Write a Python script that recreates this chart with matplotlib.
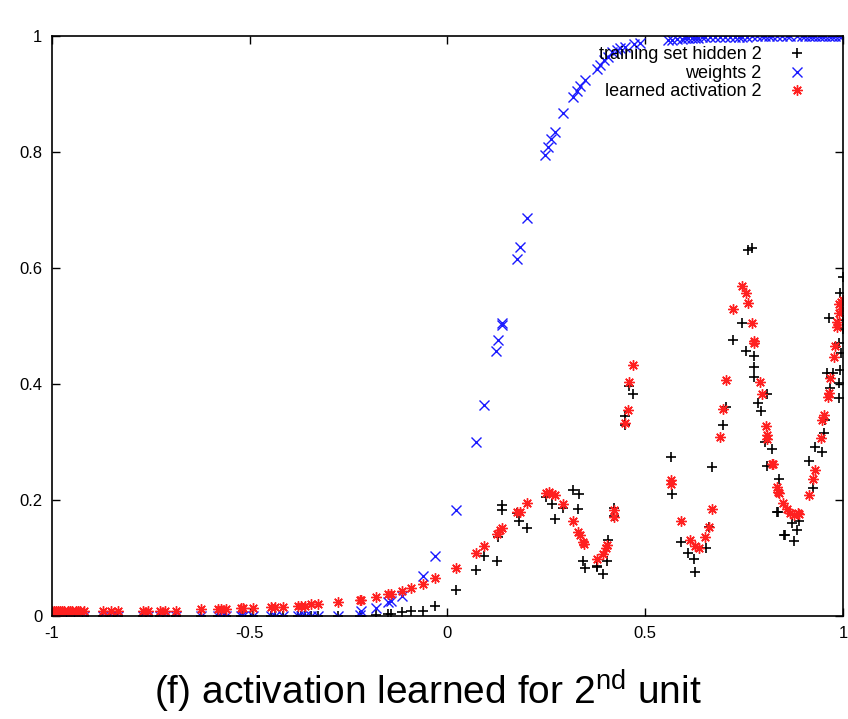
import numpy as np
import matplotlib.pyplot as plt

plt.rcParams['font.family'] = ['Liberation Sans', 'DejaVu Sans']
plt.rcParams['mathtext.fontset'] = 'custom'
plt.rcParams['mathtext.rm'] = 'Liberation Sans'

# inputs shared by the flat part on the left
x_left = [-1.0, -0.995, -0.99, -0.985, -0.98, -0.975, -0.97, -0.96, -0.955, -0.95,
          -0.94, -0.935, -0.93, -0.92, -0.871, -0.85, -0.832, -0.77, -0.758, -0.728,
          -0.715, -0.686, -0.623, -0.581, -0.572, -0.559, -0.521, -0.517, -0.492,
          -0.446, -0.437, -0.416, -0.378, -0.37, -0.361, -0.344, -0.328, -0.277]

# training set hidden 2 (black +)
train_x = x_left + [-0.222, -0.218, -0.18, -0.15, -0.142, -0.116, -0.091, -0.062, -0.032,
                    0.021, 0.071, 0.092, 0.124, 0.128, 0.137, 0.137, 0.176, 0.181, 0.2,
                    0.249, 0.265, 0.272, 0.293, 0.318, 0.333, 0.331, 0.342, 0.348, 0.377,
                    0.379, 0.394, 0.403, 0.405, 0.422, 0.422, 0.449, 0.449, 0.46, 0.47,
                    0.565, 0.567, 0.591, 0.609, 0.624, 0.626, 0.654, 0.66, 0.668, 0.696,
                    0.703, 0.723, 0.744, 0.759, 0.77, 0.754, 0.776, 0.776, 0.775, 0.786,
                    0.793, 0.809, 0.803, 0.82, 0.808, 0.837, 0.835, 0.85, 0.854, 0.832,
                    0.871, 0.877, 0.884, 0.889, 0.913, 0.924, 0.928, 0.946, 0.953, 0.955,
                    0.968, 0.96, 0.975, 0.989, 0.989, 0.993, 0.996, 0.965, 0.989, 0.993,
                    1.0, 1.0, 0.999]
train_y = [0.0] * len(x_left) + [0.0, 0.0, 0.002, 0.003, 0.003, 0.007, 0.009, 0.009, 0.018,
                                 0.045, 0.079, 0.104, 0.095, 0.137, 0.183, 0.191, 0.177, 0.164, 0.151,
                                 0.205, 0.193, 0.167, 0.186, 0.218, 0.21, 0.184, 0.094, 0.082, 0.085,
                                 0.087, 0.072, 0.095, 0.131, 0.187, 0.172, 0.345, 0.329, 0.397, 0.383,
                                 0.274, 0.21, 0.128, 0.109, 0.098, 0.075, 0.117, 0.153, 0.256, 0.329,
                                 0.36, 0.476, 0.505, 0.631, 0.635, 0.456, 0.449, 0.43, 0.412, 0.368,
                                 0.354, 0.382, 0.3, 0.288, 0.259, 0.237, 0.18, 0.14, 0.14, 0.18,
                                 0.161, 0.13, 0.148, 0.164, 0.267, 0.22, 0.291, 0.283, 0.315, 0.338,
                                 0.393, 0.419, 0.419, 0.402, 0.375, 0.424, 0.453, 0.513, 0.471, 0.556,
                                 0.585, 0.51, 0.494]

# weights 2 (blue x)
weights_x = x_left + [-0.222, -0.218, -0.18, -0.15, -0.142, -0.114, -0.062, -0.032, 0.021,
                      0.071, 0.092, 0.122, 0.128, 0.137, 0.139, 0.175, 0.183, 0.201, 0.246,
                      0.254, 0.262, 0.272, 0.292, 0.317, 0.328, 0.335, 0.348, 0.378, 0.386,
                      0.396, 0.406, 0.416, 0.429, 0.437, 0.449, 0.472, 0.487, 0.557, 0.567,
                      0.58, 0.592, 0.6, 0.609, 0.618, 0.626, 0.634, 0.643, 0.652, 0.664,
                      0.677, 0.689, 0.702, 0.714, 0.727, 0.736, 0.744, 0.757, 0.769, 0.782,
                      0.795, 0.803, 0.812, 0.82, 0.833, 0.846, 0.858, 0.867, 0.884, 0.896,
                      0.905, 0.913, 0.922, 0.93, 0.939, 0.947, 0.955, 0.964, 0.972, 0.98,
                      0.989, 0.997]
weights_y = [0.0] * len(x_left) + [0.002, 0.009, 0.013, 0.024, 0.026, 0.035, 0.069, 0.103, 0.183,
                                   0.30, 0.363, 0.456, 0.476, 0.502, 0.505, 0.616, 0.636, 0.686, 0.795,
                                   0.809, 0.822, 0.834, 0.867, 0.895, 0.905, 0.914, 0.924, 0.943, 0.95,
                                   0.959, 0.964, 0.972, 0.976, 0.979, 0.981, 0.986, 0.988, 0.993, 0.993,
                                   0.995, 0.995, 0.996, 0.996, 0.997, 0.997, 0.997, 0.998, 0.998, 0.998,
                                   0.998, 0.999, 0.999, 0.999, 0.999, 0.999, 0.999, 0.999, 1.0, 1.0,
                                   1.0, 1.0, 1.0, 1.0, 1.0, 1.0, 1.0, 1.0, 1.0, 1.0,
                                   1.0, 1.0, 1.0, 1.0, 1.0, 1.0, 1.0, 1.0, 1.0, 1.0,
                                   1.0, 1.0]

# learned activation 2 (red *)
learned_x = x_left + [-0.222, -0.218, -0.18, -0.15, -0.142, -0.114, -0.091, -0.062, -0.032,
                      0.021, 0.071, 0.092, 0.124, 0.132, 0.137, 0.176, 0.183, 0.2, 0.249,
                      0.257, 0.263, 0.272, 0.293, 0.318, 0.331, 0.335, 0.343, 0.346, 0.377,
                      0.392, 0.401, 0.404, 0.422, 0.422, 0.449, 0.456, 0.46, 0.468, 0.565,
                      0.565, 0.591, 0.612, 0.626, 0.637, 0.651, 0.66, 0.668, 0.689, 0.696,
                      0.705, 0.723, 0.744, 0.754, 0.759, 0.77, 0.776, 0.776, 0.789, 0.795,
                      0.805, 0.808, 0.809, 0.82, 0.824, 0.833, 0.835, 0.839, 0.848, 0.858,
                      0.867, 0.875, 0.885, 0.89, 0.913, 0.923, 0.928, 0.945, 0.948, 0.953,
                      0.961, 0.965, 0.968, 0.976, 0.981, 0.985, 0.986, 0.989, 0.991, 0.995,
                      1.0, 0.998]
learned_y = ([0.009] * 22 + [0.012, 0.012, 0.012, 0.012, 0.013, 0.013, 0.014, 0.016, 0.016, 0.016,
                             0.018, 0.018, 0.018, 0.02, 0.02, 0.024]
             + [0.028, 0.028, 0.032, 0.038, 0.038, 0.043, 0.048, 0.055, 0.065,
                0.083, 0.108, 0.121, 0.141, 0.149, 0.151, 0.18, 0.18, 0.194, 0.212,
                0.213, 0.21, 0.209, 0.193, 0.164, 0.145, 0.14, 0.128, 0.124, 0.099,
                0.107, 0.117, 0.122, 0.183, 0.171, 0.332, 0.355, 0.404, 0.432, 0.234,
                0.228, 0.164, 0.131, 0.12, 0.118, 0.136, 0.153, 0.184, 0.308, 0.356,
                0.406, 0.529, 0.569, 0.557, 0.54, 0.505, 0.474, 0.471, 0.404, 0.382,
                0.328, 0.312, 0.305, 0.262, 0.262, 0.222, 0.214, 0.212, 0.194, 0.184,
                0.177, 0.174, 0.177, 0.175, 0.209, 0.237, 0.252, 0.306, 0.338, 0.347,
                0.378, 0.384, 0.41, 0.447, 0.466, 0.499, 0.507, 0.522, 0.538, 0.542,
                0.545, 0.53])

fig = plt.figure(figsize=(8.48, 7.19), dpi=100)
ax = fig.add_axes([0.0613, 0.1433, 0.9328, 0.8067])

ax.plot(train_x, train_y, linestyle='none', marker='+', markersize=7, mew=1.2,
        color='black', label='training set hidden 2')
ax.plot(weights_x, weights_y, linestyle='none', marker='x', markersize=6.5, mew=1.0,
        color='#1a1aff', label='weights 2')
ax.plot(learned_x, learned_y, linestyle='none', marker=(8, 2, 0), markersize=7.5, mew=1.0,
        color='#ff2020', label='learned activation 2')

ax.set_xlim(-1, 1)
ax.set_ylim(0, 1)
ax.set_xticks([-1, -0.5, 0, 0.5, 1])
ax.set_xticklabels(['-1', '-0.5', '0', '0.5', '1'])
ax.set_yticks([0, 0.2, 0.4, 0.6, 0.8, 1])
ax.set_yticklabels(['0', '0.2', '0.4', '0.6', '0.8', '1'])
ax.tick_params(direction='in', length=6, width=1, top=True, right=True,
               labelsize=12, pad=7)
for s in ax.spines.values():
    s.set_linewidth(1.2)

leg = ax.legend(loc='upper right', frameon=False, markerfirst=False, fontsize=13,
                handlelength=1.2, handletextpad=1.35, labelspacing=0.08,
                borderaxespad=0, borderpad=0, bbox_to_anchor=(0.955, 0.982),
                alignment='right')
for t in leg.get_texts():
    t.set_ha('right')

fig.text(0.504, 0.038, r'(f) activation learned for 2$^{\mathrm{nd}}$ unit',
         ha='center', va='center', fontsize=28)

fig.savefig('out.png', dpi=100)
